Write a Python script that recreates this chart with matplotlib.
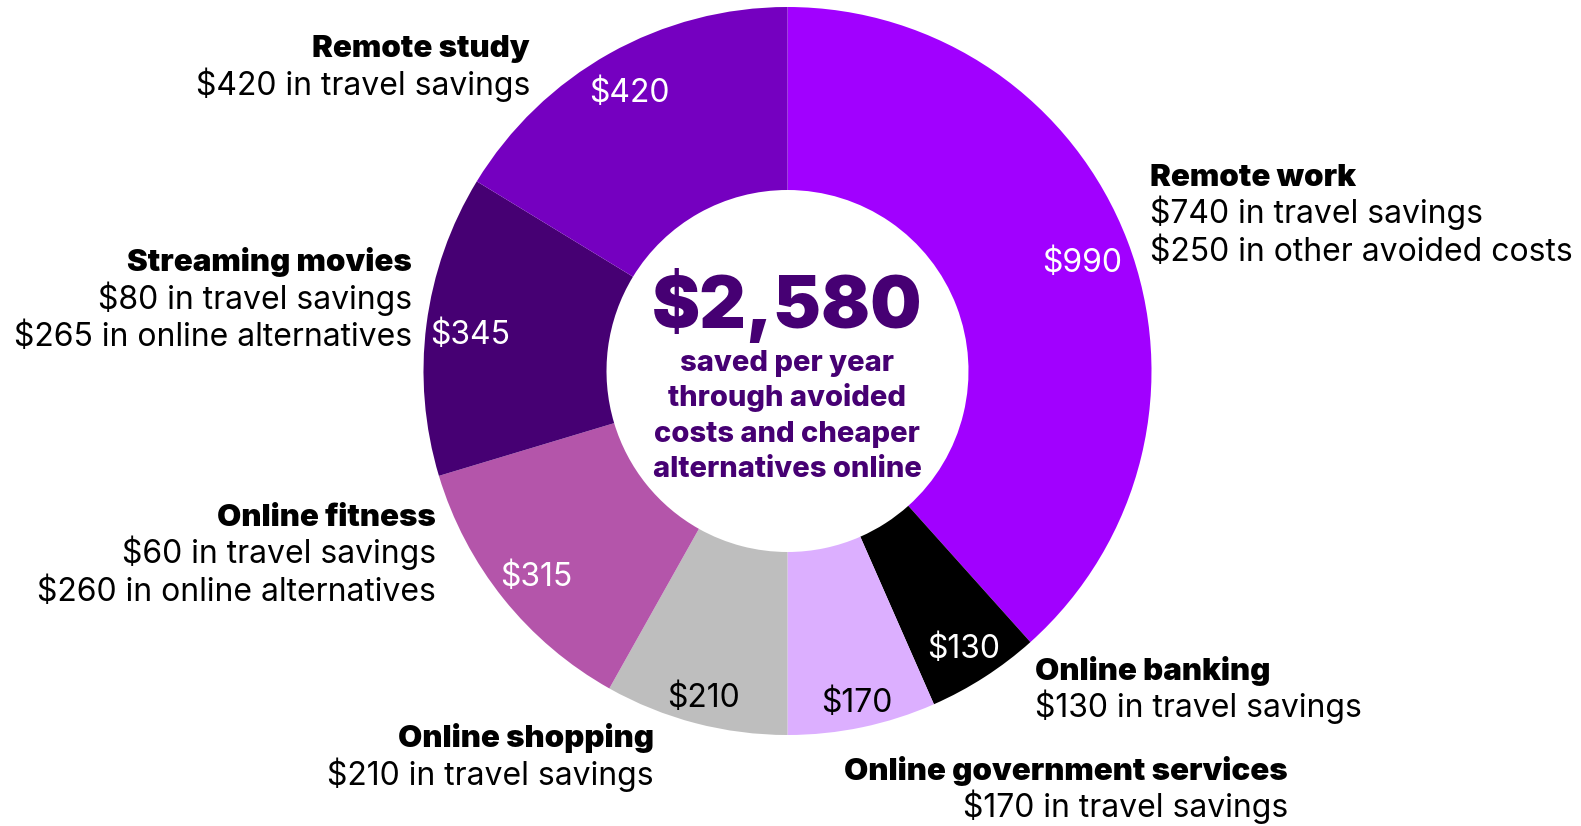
import matplotlib
matplotlib.use("Agg")
import matplotlib.pyplot as plt
import numpy as np

# ---- data ----
categories = ["Remote work", "Online banking", "Online government services",
              "Online shopping", "Online fitness", "Streaming movies", "Remote study"]
values = [990, 130, 170, 210, 315, 345, 420]
value_labels = ["$990", "$130", "$170", "$210", "$315", "$345", "$420"]
descriptions = [
    ["$740 in travel savings", "$250 in other avoided costs"],
    ["$130 in travel savings"],
    ["$170 in travel savings"],
    ["$210 in travel savings"],
    ["$60 in travel savings", "$260 in online alternatives"],
    ["$80 in travel savings", "$265 in online alternatives"],
    ["$420 in travel savings"],
]
total_label = "$2,580"
center_lines = ["saved per year", "through avoided", "costs and cheaper", "alternatives online"]

colors = ["#A100FF", "#000000", "#DCAFFF", "#BEBEBE", "#B455AA", "#460073", "#7500C0"]
value_colors = ["white", "white", "black", "black", "white", "white", "white"]
value_radius = [0.868, 0.893, 0.92, 0.917, 0.885, 0.879, 0.89]

# label anchors (image px: x, first baseline y, alignment)
label_anchor = [
    (1150, 186, "left"),
    (1035, 680, "left"),
    (1288, 780, "right"),
    (654, 747, "right"),
    (436, 526, "right"),
    (412, 271, "right"),
    (530, 57, "right"),
]

W, H = 1581, 826
FONT = "Inter"
fig = plt.figure(figsize=(W / 100, H / 100), dpi=100)
ax = fig.add_axes([0, 0, 1, 1])

cx, cy = 787.5, H - 371
R = 364
r_in = 181

def Y(y):
    return H - y

wedges, _ = ax.pie(values, colors=colors, startangle=90, counterclock=False,
                   radius=R, center=(cx, cy), frame=True,
                   wedgeprops=dict(width=R - r_in, linewidth=0))
ax.set_xlim(0, W)
ax.set_ylim(0, H)
ax.set_aspect("equal")
ax.axis("off")

# value labels inside wedges
for w, lab, col, rf in zip(wedges, value_labels, value_colors, value_radius):
    mid = np.deg2rad((w.theta1 + w.theta2) / 2)
    rr = rf * R
    ax.text(cx + rr * np.cos(mid), cy + rr * np.sin(mid) - 5, lab, color=col,
            fontsize=23, family=FONT, fontweight="normal", ha="center", va="center")

# outside labels
step = 37.5
for name, desc, (x, y, ha) in zip(categories, descriptions, label_anchor):
    ax.text(x, Y(y), name, fontsize=22.5, family=FONT, fontweight="black",
            ha=ha, va="baseline", color="black")
    for i, d in enumerate(desc):
        ax.text(x, Y(y + step * (i + 1)), d, fontsize=23, family=FONT,
                fontweight="normal", ha=ha, va="baseline", color="black")

# centre text
ax.text(787, Y(328), total_label, fontsize=52, family=FONT, fontweight="black",
        ha="center", va="baseline", color="#460073")
for i, line in enumerate(center_lines):
    ax.text(787, Y(371 + 35.3 * i), line, fontsize=21, family=FONT,
            fontweight="heavy", ha="center", va="baseline", color="#460073")

fig.savefig("out.png", dpi=100)
